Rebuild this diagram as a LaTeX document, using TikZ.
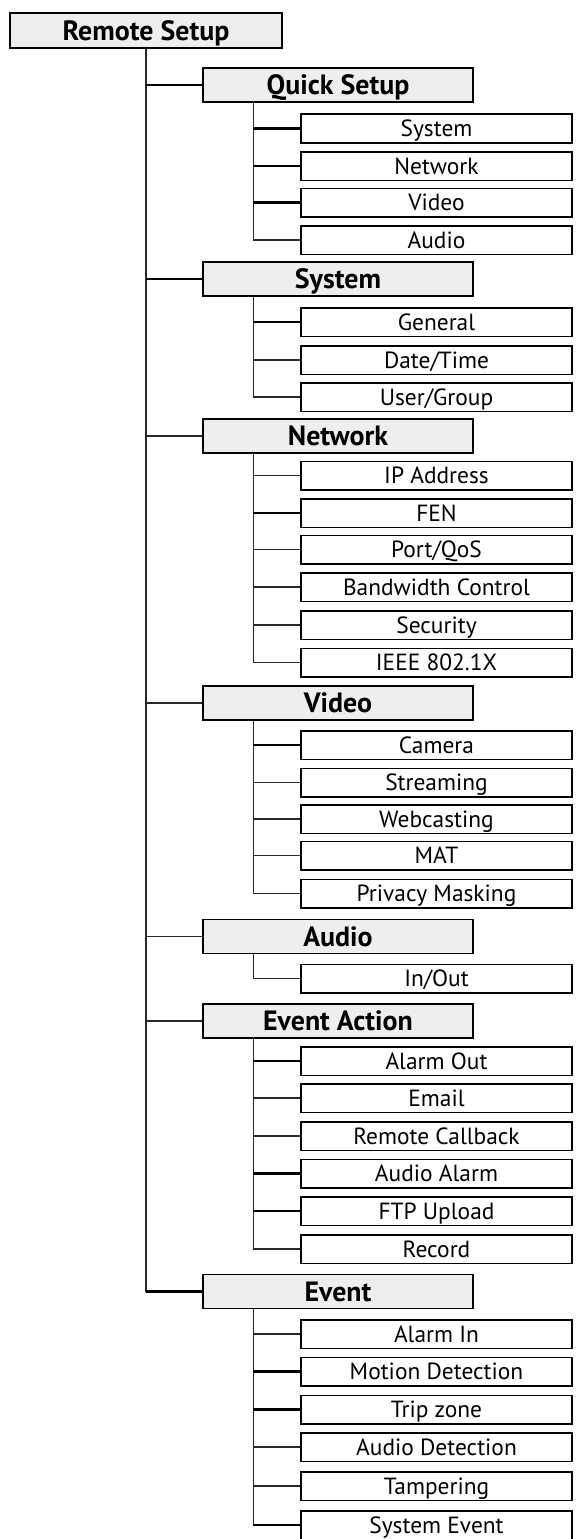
\documentclass[tikz,border=0pt]{standalone}
\usepackage{fontspec}
\setmainfont{PT Sans}
\usepackage{tikz}
\usetikzlibrary{shapes, positioning}

\begin{document}
\begin{tikzpicture}[x=1bp, y=-1bp,
  topbox/.style={draw, line width=1.6bp, fill=boxgray, minimum width=272bp, minimum height=35bp, inner sep=0pt, text height=19.6bp, text depth=0pt, font=\fontsize{28}{30}\selectfont\bfseries},
  menubox/.style={draw, line width=1.6bp, fill=boxgray, minimum width=270bp, minimum height=34bp, inner sep=0pt, text height=19.6bp, text depth=0pt, font=\fontsize{28}{30}\selectfont\bfseries},
  itembox/.style={draw, line width=1.5bp, fill=white, minimum width=271bp, minimum height=28.5bp, inner sep=0pt, text height=16.5bp, text depth=0pt, font=\fontsize{23.5}{26}\selectfont},
  link/.style={line width=1.2bp, draw=linegray},
  boldlink/.style={line width=2.2bp, draw=black}]

% Define colors
\definecolor{boxgray}{RGB}{238,238,238}
\definecolor{linegray}{RGB}{40,40,40}

% Page size
\useasboundingbox (0,0) rectangle (576,1539);

% Main box
\node[topbox] (remote) at (146,30.5) {Remote Setup};

% Menu boxes
\node[menubox] (quick) at (338,85) {Quick Setup};
\node[menubox] (system) at (338,279) {System};
\node[menubox] (network) at (338,436) {Network};
\node[menubox] (video) at (338,703) {Video};
\node[menubox] (audio) at (338,936.5) {Audio};
\node[menubox] (action) at (338,1021) {Event Action};
\node[menubox] (event) at (338,1291.5) {Event};

% Quick Setup
\node[itembox] (quick1) at (436.5,128.5) {System};
\node[itembox] (quick2) at (436.5,166) {Network};
\node[itembox] (quick3) at (436.5,202.5) {Video};
\node[itembox] (quick4) at (436.5,240) {Audio};

% System
\node[itembox] (system1) at (436.5,322) {General};
\node[itembox] (system2) at (436.5,360) {Date/Time};
\node[itembox] (system3) at (436.5,397) {User/Group};

% Network
\node[itembox] (network1) at (436.5,475.5) {IP Address};
\node[itembox] (network2) at (436.5,513) {FEN};
\node[itembox] (network3) at (436.5,549.5) {Port/QoS};
\node[itembox] (network4) at (436.5,587) {Bandwidth Control};
\node[itembox] (network5) at (436.5,625) {Security};
\node[itembox] (network6) at (436.5,662.5) {IEEE 802.1X};

% Video
\node[itembox] (video1) at (436.5,745) {Camera};
\node[itembox] (video2) at (436.5,782.5) {Streaming};
\node[itembox] (video3) at (436.5,819) {Webcasting};
\node[itembox] (video4) at (436.5,855.5) {MAT};
\node[itembox] (video5) at (436.5,893.5) {Privacy Masking};

% Audio
\node[itembox] (audio1) at (436.5,978.5) {In/Out};

% Event Action
\node[itembox] (action1) at (436.5,1061) {Alarm Out};
\node[itembox] (action2) at (436.5,1098) {Email};
\node[itembox] (action3) at (436.5,1136) {Remote Callback};
\node[itembox] (action4) at (436.5,1173.5) {Audio Alarm};
\node[itembox] (action5) at (436.5,1211) {FTP Upload};
\node[itembox] (action6) at (436.5,1249) {Record};

% Event
\node[itembox] (event1) at (436.5,1334) {Alarm In};
\node[itembox] (event2) at (436.5,1371.5) {Motion Detection};
\node[itembox] (event3) at (436.5,1409.5) {Trip zone};
\node[itembox] (event4) at (436.5,1447) {Audio Detection};
\node[itembox] (event5) at (436.5,1486) {Tampering};
\node[itembox] (event6) at (436.5,1525) {System Event};

% Main line
\draw[link] (remote.south) -- (remote.south |- event.west);
\draw[boldlink] (remote.south |- quick.west) -- (quick.west);
\draw[boldlink] (remote.south |- system.west) -- (system.west);
\draw[link] (remote.south |- network.west) -- (network.west);
\draw[link] (remote.south |- video.west) -- (video.west);
\draw[link] (remote.south |- audio.west) -- (audio.west);
\draw[link] (remote.south |- action.west) -- (action.west);
\draw[boldlink] (remote.south |- event.west) -- (event.west);

% Branch lines
\coordinate (quickbar) at ([xshift=51bp]quick.south west);
\draw[link] (quickbar) |- (quick4.west);
\draw[boldlink] (quickbar |- quick1.west) -- (quick1.west);
\draw[boldlink] (quickbar |- quick2.west) -- (quick2.west);
\draw[boldlink] (quickbar |- quick3.west) -- (quick3.west);

\coordinate (systembar) at ([xshift=51bp]system.south west);
\draw[link] (systembar) |- (system3.west);
\draw[boldlink] (systembar |- system1.west) -- (system1.west);
\draw[link] (systembar |- system2.west) -- (system2.west);

\coordinate (networkbar) at ([xshift=51bp]network.south west);
\draw[link] (networkbar) |- (network6.west);
\draw[link] (networkbar |- network1.west) -- (network1.west);
\draw[boldlink] (networkbar |- network2.west) -- (network2.west);
\draw[link] (networkbar |- network3.west) -- (network3.west);
\draw[link] (networkbar |- network4.west) -- (network4.west);
\draw[link] (networkbar |- network5.west) -- (network5.west);

\coordinate (videobar) at ([xshift=51bp]video.south west);
\draw[link] (videobar) |- (video5.west);
\draw[boldlink] (videobar |- video1.west) -- (video1.west);
\draw[link] (videobar |- video2.west) -- (video2.west);
\draw[link] (videobar |- video3.west) -- (video3.west);
\draw[link] (videobar |- video4.west) -- (video4.west);

\coordinate (audiobar) at ([xshift=51bp]audio.south west);
\draw[link] (audiobar) |- (audio1.west);

\coordinate (actionbar) at ([xshift=51bp]action.south west);
\draw[link] (actionbar) |- (action6.west);
\draw[boldlink] (actionbar |- action1.west) -- (action1.west);
\draw[link] (actionbar |- action2.west) -- (action2.west);
\draw[link] (actionbar |- action3.west) -- (action3.west);
\draw[boldlink] (actionbar |- action4.west) -- (action4.west);
\draw[boldlink] (actionbar |- action5.west) -- (action5.west);

\coordinate (eventbar) at ([xshift=51bp]event.south west);
\draw[link] (eventbar) -- (eventbar |- event6.west);
\draw[link] (eventbar |- event1.west) -- (event1.west);
\draw[boldlink] (eventbar |- event2.west) -- (event2.west);
\draw[boldlink] (eventbar |- event3.west) -- (event3.west);
\draw[link] (eventbar |- event4.west) -- (event4.west);
\draw[link] (eventbar |- event5.west) -- (event5.west);
\draw[boldlink] (eventbar |- event6.west) -- (event6.west);

\end{tikzpicture}
\end{document}
